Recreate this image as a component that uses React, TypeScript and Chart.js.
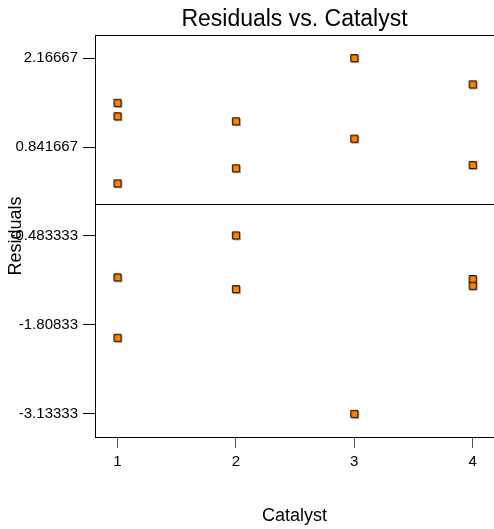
import React, { useEffect, useRef } from "react";
import { Chart, registerables } from "chart.js";

Chart.register(...registerables);

const TITLE = "Residuals vs. Catalyst";
const X_TITLE = "Catalyst";
const Y_TITLE = "Residuals";

const CATALYST = [1, 1, 1, 1, 1, 2, 2, 2, 2, 3, 3, 3, 4, 4, 4, 4];
const RESIDUALS = [
  1.5, 1.3, 0.3, -1.1, -2.0,
  1.225, 0.525, -0.475, -1.275,
  2.16667, 0.96667, -3.13333,
  1.775, 0.575, -1.125, -1.225,
];

const X_TICKS = [1, 2, 3, 4];
const Y_TICKS = [2.16667, 0.841667, -0.483333, -1.80833, -3.13333];
const Y_TICK_LABELS = ["2.16667", "0.841667", "-0.483333", "-1.80833", "-3.13333"];

const X_MIN = 0.81;
const X_MAX = 4.18;
const Y_MIN = -3.478;
const Y_MAX = 2.511;

const FONT = "'Liberation Sans', Arial, sans-serif";

export default function App() {
  const ref = useRef<HTMLCanvasElement | null>(null);

  useEffect(() => {
    if (!ref.current) return;
    const frame = {
      id: "frame",
      beforeDatasetsDraw(chart: any) {
        const { ctx, chartArea } = chart;
        const y0 = chart.scales.y.getPixelForValue(0);
        ctx.save();
        ctx.strokeStyle = "#000";
        ctx.lineWidth = 1;
        ctx.beginPath();
        ctx.moveTo(chartArea.left, Math.round(chartArea.top) + 0.5);
        ctx.lineTo(chartArea.right, Math.round(chartArea.top) + 0.5);
        ctx.moveTo(chartArea.left, Math.round(y0) + 0.5);
        ctx.lineTo(chartArea.right, Math.round(y0) + 0.5);
        ctx.stroke();
        ctx.restore();
        ctx.save();
        ctx.shadowColor = "rgba(0,0,0,0.3)";
        ctx.shadowOffsetX = 1;
        ctx.shadowOffsetY = 1;
        ctx.shadowBlur = 0;
      },
      afterDatasetsDraw(chart: any) {
        chart.ctx.restore();
      },
    };

    const chart = new Chart(ref.current, {
      type: "scatter",
      data: {
        datasets: [
          {
            data: CATALYST.map((x, i) => ({ x, y: RESIDUALS[i] })),
            pointStyle: "rect",
            pointRadius: 5,
            pointHoverRadius: 5,
            backgroundColor: "#ff8400",
            borderColor: "#2a1800",
            borderWidth: 1,
          },
        ],
      },
      options: {
        responsive: false,
        animation: false,
        layout: { padding: 0, autoPadding: false },
        plugins: {
          legend: { display: false },
          tooltip: { enabled: false },
          title: {
            display: true,
            text: TITLE,
            fullSize: false,
            color: "#000",
            font: { family: FONT, size: 23, weight: "normal" },
            padding: { top: 6, bottom: 1.4 },
          },
        },
        scales: {
          x: {
            type: "linear",
            min: X_MIN,
            max: X_MAX,
            afterBuildTicks: (s: any) => {
              s.ticks = X_TICKS.map((v) => ({ value: v }));
            },
            afterFit: (s: any) => {
              s.height = 92;
            },
            grid: {
              display: true,
              drawOnChartArea: false,
              drawTicks: true,
              tickLength: 11,
              color: "#555",
            },
            border: { display: true, color: "#000", width: 1 },
            ticks: {
              color: "#000",
              padding: 5,
              font: { family: FONT, size: 15 },
              callback: (v: any) => String(v),
            },
            title: {
              display: true,
              text: X_TITLE,
              color: "#000",
              font: { family: FONT, size: 18 },
              padding: { top: 0, bottom: 2 },
            },
          },
          y: {
            type: "linear",
            min: Y_MIN,
            max: Y_MAX,
            afterBuildTicks: (s: any) => {
              s.ticks = Y_TICKS.map((v) => ({ value: v }));
            },
            afterFit: (s: any) => {
              s.width = 95;
            },
            grid: {
              display: true,
              drawOnChartArea: false,
              drawTicks: true,
              tickLength: 12,
              color: "#000",
            },
            border: { display: true, color: "#000", width: 1 },
            ticks: {
              color: "#000",
              padding: 5,
              font: { family: FONT, size: 15 },
              callback: (_v: any, i: number) => Y_TICK_LABELS[i],
            },
            title: {
              display: true,
              text: Y_TITLE,
              color: "#000",
              font: { family: FONT, size: 18 },
              padding: { top: 5, bottom: 0 },
            },
          },
        },
      },
      plugins: [frame],
    });
    return () => chart.destroy();
  }, []);

  return (
    <div style={{ position: "absolute", left: 0, top: 0, width: 494, height: 529, background: "#fff" }}>
      <canvas ref={ref} width={494} height={529} style={{ display: "block" }} />
    </div>
  );
}
